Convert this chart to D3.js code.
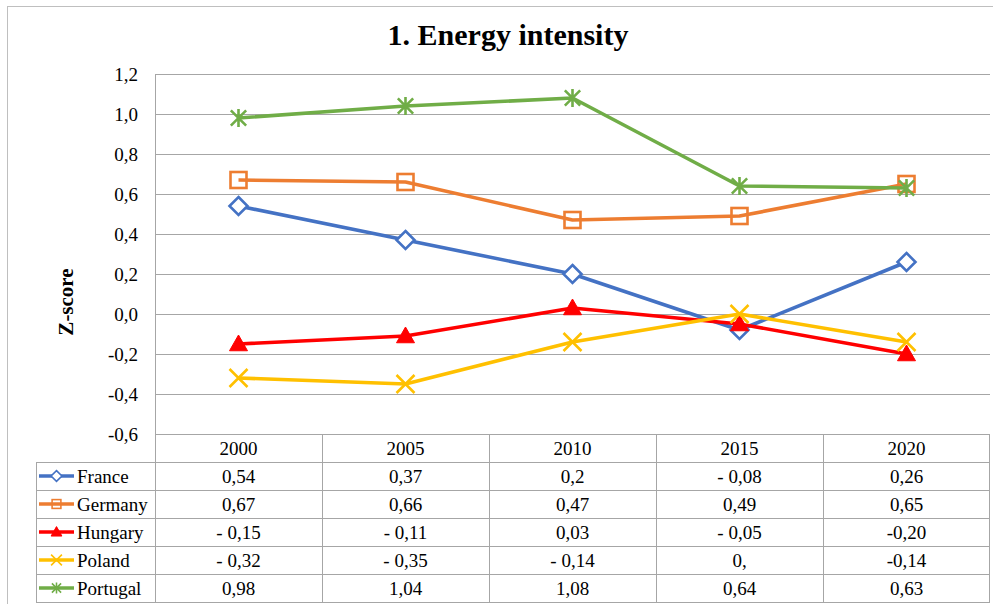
<!DOCTYPE html>
<html><head><meta charset="utf-8">
<script src="https://cdn.jsdelivr.net/npm/d3@7/dist/d3.min.js"></script>
<style>body{margin:0;background:#fff}svg{display:block}</style>
</head><body><svg id="c" width="993" height="604"></svg>
<script>
const years = ["2000","2005","2010","2015","2020"];
const seriesNames = ["France","Germany","Hungary","Poland","Portugal"];
const france = [0.54,0.37,0.20,-0.08,0.26];
const germany = [0.67,0.66,0.47,0.49,0.65];
const hungary = [-0.15,-0.11,0.03,-0.05,-0.20];
const poland = [-0.32,-0.35,-0.14,0.00,-0.14];
const portugal = [0.98,1.04,1.08,0.64,0.63];
const franceLabels = ["0,54","0,37","0,2","- 0,08","0,26"];
const germanyLabels = ["0,67","0,66","0,47","0,49","0,65"];
const hungaryLabels = ["- 0,15","- 0,11","0,03","- 0,05","-0,20"];
const polandLabels = ["- 0,32","- 0,35","- 0,14","0,","-0,14"];
const portugalLabels = ["0,98","1,04","1,08","0,64","0,63"];
const yTicks = [-0.6,-0.4,-0.2,0,0.2,0.4,0.6,0.8,1.0,1.2];
const colors = ["#4472C4","#ED7D31","#FF0000","#FFC000","#70AD47"];
const markers = ["diamond","square","triangle","x","star"];

const series = seriesNames.map((n,i)=>({name:n,values:[france,germany,hungary,poland,portugal][i],labels:[franceLabels,germanyLabels,hungaryLabels,polandLabels,portugalLabels][i],color:colors[i],marker:markers[i]}));

const svg = d3.select("#c");
const L=155, R=990, T=74, B=434;
const x = d3.scaleBand().domain(years).range([L,R]);
const y = d3.scaleLinear().domain([-0.6,1.2]).range([B,T]);
const gridC="#a6a6a6";
function txt(sel){ return sel.style("font-family", "'Liberation Serif', 'Times New Roman', serif"); }

svg.append("rect").attr("x",7.5).attr("y",6.5).attr("width",990).attr("height",610).attr("fill","none").attr("stroke","#bfbfbf");

txt(svg.append("text")).attr("x",508).attr("y",45).attr("text-anchor","middle").attr("font-size",30).attr("font-weight","bold").text("1. Energy intensity");

svg.append("g").selectAll("line").data(yTicks).join("line")
 .attr("x1",L).attr("x2",R).attr("y1",d=>Math.round(y(d))+0.5).attr("y2",d=>Math.round(y(d))+0.5)
 .attr("stroke",gridC).attr("stroke-width",1);
svg.append("line").attr("x1",L+0.5).attr("x2",L+0.5).attr("y1",T).attr("y2",B).attr("stroke",gridC);

const fmt = d=>d3.format(".1f")(d).replace(".",",").replace("−","-");
txt(svg.append("g").selectAll("text").data(yTicks).join("text"))
 .attr("x",138).attr("y",d=>y(d)+6.5).attr("text-anchor","end").attr("font-size",19).text(fmt);

txt(svg.append("text")).attr("transform","translate(73,302) rotate(-90)").attr("text-anchor","middle")
 .attr("font-size",21).attr("font-weight","bold").text("Z-score");

const rowH=28, hTop=B, rTop=B+28, tL=36;
const tg = svg.append("g").attr("stroke",gridC).attr("stroke-width",1);
x.domain().forEach(yr=>{ tg.append("line").attr("x1",Math.round(x(yr))+0.5).attr("x2",Math.round(x(yr))+0.5).attr("y1",hTop).attr("y2",rTop+rowH*5); });
tg.append("line").attr("x1",R-0.5).attr("x2",R-0.5).attr("y1",hTop).attr("y2",rTop+rowH*5);
tg.append("line").attr("x1",tL+0.5).attr("x2",tL+0.5).attr("y1",rTop).attr("y2",rTop+rowH*5);
for(let i=0;i<=5;i++){ tg.append("line").attr("x1",tL).attr("x2",R).attr("y1",rTop+rowH*i+0.5).attr("y2",rTop+rowH*i+0.5); }

txt(svg.append("g").selectAll("text").data(years).join("text"))
 .attr("x",d=>x(d)+x.bandwidth()/2).attr("y",hTop+20.5).attr("text-anchor","middle").attr("font-size",19).text(d=>d);

function marker(g,type,color,cx,cy,k){
  const s=9*k, w=2.6*k;
  if(type==="diamond"){
    g.append("path").attr("d",`M${cx},${cy-s}L${cx+s},${cy}L${cx},${cy+s}L${cx-s},${cy}Z`).attr("fill","#fff").attr("stroke",color).attr("stroke-width",w);
  } else if(type==="square"){
    g.append("rect").attr("x",cx-s+1).attr("y",cy-s+1).attr("width",2*s-2).attr("height",2*s-2).attr("fill","#fff").attr("fill-opacity",0).attr("stroke",color).attr("stroke-width",w);
  } else if(type==="triangle"){
    g.append("path").attr("d",`M${cx},${cy-s}L${cx+s},${cy+s*0.75}L${cx-s},${cy+s*0.75}Z`).attr("fill",color).attr("stroke",color).attr("stroke-width",1);
  } else if(type==="x"){
    g.append("path").attr("d",`M${cx-s},${cy-s}L${cx+s},${cy+s}M${cx+s},${cy-s}L${cx-s},${cy+s}`).attr("stroke",color).attr("stroke-width",w);
  } else if(type==="star"){
    g.append("path").attr("d",`M${cx-s*0.85},${cy-s*0.85}L${cx+s*0.85},${cy+s*0.85}M${cx+s*0.85},${cy-s*0.85}L${cx-s*0.85},${cy+s*0.85}M${cx},${cy-s}L${cx},${cy+s}`).attr("stroke",color).attr("stroke-width",w);
  }
}

const line = d3.line().x((d,i)=>x(years[i])+x.bandwidth()/2).y(d=>y(d));
series.forEach((s,si)=>{
  const g = svg.append("g");
  g.append("path").attr("d",line(s.values)).attr("fill","none").attr("stroke",s.color).attr("stroke-width",3.6).attr("stroke-linejoin","round");
  s.values.forEach((v,i)=>marker(g,s.marker,s.color,x(years[i])+x.bandwidth()/2,y(v),1));
  const cy = rTop+rowH*si+rowH/2;
  const lg = svg.append("g");
  lg.append("line").attr("x1",39).attr("x2",74).attr("y1",cy).attr("y2",cy).attr("stroke",s.color).attr("stroke-width",3.6);
  marker(lg,s.marker,s.color,56.5,cy,0.6);
  txt(svg.append("text")).attr("x",77).attr("y",cy+6.5).attr("font-size",19).text(s.name);
  txt(svg.append("g").selectAll("text").data(s.labels).join("text"))
    .attr("x",(d,i)=>x(years[i])+x.bandwidth()/2).attr("y",cy+6.5).attr("text-anchor","middle").attr("font-size",19).text(d=>d);
});
</script></body></html>
